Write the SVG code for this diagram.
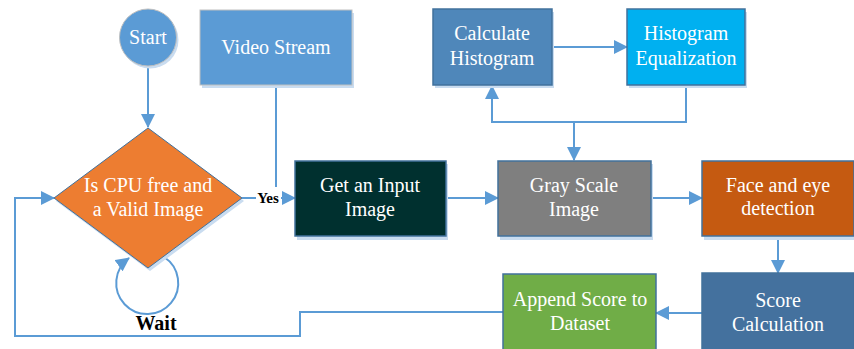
<svg xmlns="http://www.w3.org/2000/svg" width="854" height="349" viewBox="0 0 854 349">
<defs>
<marker id="ahb" markerWidth="14" markerHeight="14" refX="13" refY="7" orient="auto" markerUnits="userSpaceOnUse" viewBox="0 0 14 14">
<path d="M0,0 L14,7 L0,14 z" fill="#5b9bd5"/>
</marker>
</defs>
<style>
text{font-family:'Liberation Serif','DejaVu Serif','Times New Roman',serif}
.t{font-size:20px;fill:#ffffff;text-anchor:middle}
.b{font-weight:bold;fill:#000000;text-anchor:middle}
.box{stroke:#41719c;stroke-width:1.5}
.sh{fill:#c9dcf0}
.c{fill:none;stroke:#5b9bd5;stroke-width:2}
</style>
<rect width="854" height="349" fill="#ffffff"/>
<g id="connectors">
<path class="c" d="M148,66 V127" marker-end="url(#ahb)"/>
<path class="c" d="M276,85 V187"/>
<path class="c" d="M242,198 H256"/>
<path class="c" d="M281,198 H295" marker-end="url(#ahb)"/>
<path class="c" d="M446,198 H498" marker-end="url(#ahb)"/>
<path class="c" d="M651,198 H702" marker-end="url(#ahb)"/>
<path class="c" d="M552,47 H627" marker-end="url(#ahb)"/>
<path class="c" d="M686,85 V122 H492 V86" marker-end="url(#ahb)"/>
<path class="c" d="M574,122 V160" marker-end="url(#ahb)"/>
<path class="c" d="M778,236 V273" marker-end="url(#ahb)"/>
<path class="c" d="M702,313 H656" marker-end="url(#ahb)"/>
<path class="c" d="M503,312 H300 V336 H15 V198 H54" marker-end="url(#ahb)"/>
<path class="c" d="M164,257 A31,31 0 1 1 129,258" marker-end="url(#ahb)"/>
<text class="b" x="268" y="203" font-size="15" font-family="Liberation Serif, serif">Yes</text>
<text class="b" x="156" y="330" font-size="20" font-family="Liberation Serif, serif">Wait</text>
</g>
<g id="start">
<circle cx="150" cy="40" r="28.5" class="sh"/>
<circle cx="148" cy="37.5" r="28.5" fill="#5b9bd5" stroke="#bfbfbf" stroke-width="1"/>
<text class="t" x="148" y="44">Start</text>
</g>
<g id="video-stream">
<rect x="202" y="13" width="152" height="75" class="sh"/>
<rect x="200" y="10" width="152" height="75" fill="#5b9bd5" stroke="#bfbfbf" stroke-width="1"/>
<text class="t" x="276" y="54">Video Stream</text>
</g>
<g id="decision">
<polygon points="150,131 244,201 150,271 56,201" class="sh"/>
<polygon points="148,128 242,198 148,268 54,198" fill="#ed7d31" stroke="#41719c" stroke-width="1"/>
<text class="t" x="148" y="192">Is CPU free and</text>
<text class="t" x="148" y="216">a Valid Image</text>
</g>
<g id="calc-hist">
<rect x="435" y="12" width="119" height="76" class="sh"/>
<rect x="433" y="9" width="119" height="76" fill="#4f87ba" class="box"/>
<text class="t" x="492" y="40">Calculate</text>
<text class="t" x="492" y="65">Histogram</text>
</g>
<g id="hist-eq">
<rect x="629" y="12" width="118" height="76" class="sh"/>
<rect x="627" y="9" width="118" height="76" fill="#00b0f0" class="box"/>
<text class="t" x="686" y="40">Histogram</text>
<text class="t" x="686" y="65">Equalization</text>
</g>
<g id="input-image">
<rect x="297" y="164" width="151" height="76" class="sh"/>
<rect x="295" y="161" width="151" height="75" fill="#00302f" class="box"/>
<text class="t" x="370" y="192">Get an Input</text>
<text class="t" x="370" y="216">Image</text>
</g>
<g id="gray-scale">
<rect x="500" y="164" width="153" height="76" class="sh"/>
<rect x="498" y="161" width="153" height="75" fill="#7f7f7f" class="box"/>
<text class="t" x="574" y="192">Gray Scale</text>
<text class="t" x="574" y="216">Image</text>
</g>
<g id="face-eye">
<rect x="704" y="164" width="152" height="76" class="sh"/>
<rect x="702" y="161" width="152" height="75" fill="#c55a11" class="box"/>
<text class="t" x="778" y="192">Face and eye</text>
<text class="t" x="778" y="215">detection</text>
</g>
<g id="score">
<rect x="702" y="273" width="152" height="80" fill="#44719e" class="box"/>
<text class="t" x="778" y="307">Score</text>
<text class="t" x="778" y="331">Calculation</text>
</g>
<g id="append">
<rect x="503" y="274" width="153" height="80" fill="#70ad47" class="box"/>
<text class="t" x="580" y="306">Append Score to</text>
<text class="t" x="580" y="330">Dataset</text>
</g>
</svg>
